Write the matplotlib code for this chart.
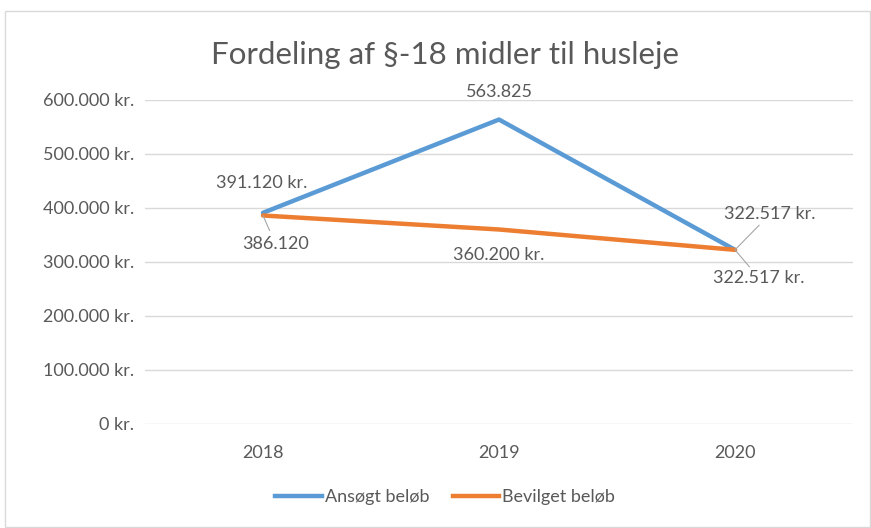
import matplotlib
matplotlib.use("Agg")
import matplotlib.pyplot as plt
from matplotlib.patches import Rectangle
from matplotlib.lines import Line2D

title = "Fordeling af §-18 midler til husleje"
years = ["2018", "2019", "2020"]
ansoegt = [391120, 563825, 322517]
bevilget = [386120, 360200, 322517]
ansoegt_labels = ["391.120 kr.", "563.825", "322.517 kr."]
bevilget_labels = ["386.120", "360.200 kr.", "322.517 kr."]
yticks = [0, 100000, 200000, 300000, 400000, 500000, 600000]
ytick_labels = ["0 kr.", "100.000 kr.", "200.000 kr.", "300.000 kr.",
                "400.000 kr.", "500.000 kr.", "600.000 kr."]
series_names = ["Ansøgt beløb", "Bevilget beløb"]

BLUE = "#5B9BD5"
ORANGE = "#ED7D31"
TXT = "#595959"
GRID = "#D9D9D9"
plt.rcParams['font.family'] = ['Lato', 'DejaVu Sans']
FS = 13

W, H = 871, 528
fig = plt.figure(figsize=(W/100, H/100), dpi=100)
fig.patch.set_facecolor("white")
fig.add_artist(Rectangle((5/W, 1/H), (W-6)/W, (H-12)/H, transform=fig.transFigure,
                         fill=False, edgecolor="#D9D9D9", lw=1))

ax = fig.add_axes([145/W, (H-424)/H, (853-145)/W, (424-100)/H])
x = list(range(len(years)))
ax.plot(x, ansoegt, color=BLUE, lw=3.2, solid_capstyle="round", zorder=3)
ax.plot(x, bevilget, color=ORANGE, lw=3.2, solid_capstyle="round", zorder=3)
ax.set_xlim(-0.5, 2.5)
ax.set_ylim(0, 600000)
ax.set_yticks(yticks)
ax.set_yticklabels(ytick_labels)
ax.set_xticks(x)
ax.set_xticklabels(years)
ax.tick_params(length=0, colors=TXT, labelsize=FS)
ax.tick_params(axis="y", pad=8)
ax.tick_params(axis="x", pad=15)
ax.grid(axis="y", color=GRID, lw=1)
ax.set_axisbelow(True)
for s in ax.spines.values():
    s.set_visible(False)

lab_kw = dict(color=TXT, fontsize=FS, ha="center", va="center")
lead = dict(arrowstyle="-", color="#A6A6A6", lw=0.8, shrinkB=0)
# blue labels (offsets in points)
ax.annotate(ansoegt_labels[0], (0, ansoegt[0]), xytext=(-1, 21.5), textcoords="offset points", **lab_kw)
ax.annotate(ansoegt_labels[1], (1, ansoegt[1]), xytext=(0, 20), textcoords="offset points", **lab_kw)
ax.annotate(ansoegt_labels[2], (2, ansoegt[2]), xytext=(25, 25.5), textcoords="offset points",
            arrowprops=dict(shrinkA=0, **lead), **lab_kw)
# orange labels
ax.annotate(bevilget_labels[0], (0, bevilget[0]), xytext=(9, -20.5), textcoords="offset points",
            arrowprops=dict(shrinkA=2, **lead), **lab_kw)
ax.annotate(bevilget_labels[1], (1, bevilget[1]), xytext=(0, -18.4), textcoords="offset points", **lab_kw)
ax.annotate(bevilget_labels[2], (2, bevilget[2]), xytext=(17, -20), textcoords="offset points",
            arrowprops=dict(shrinkA=0, **lead), **lab_kw)

fig.text(445/W, 1-55/H, title, ha="center", va="center", fontsize=22.5, color=TXT)

handles = [Line2D([], [], color=BLUE, lw=3.2), Line2D([], [], color=ORANGE, lw=3.2)]
fig.legend(handles, series_names, loc="center", bbox_to_anchor=(445/W, 1-497/H),
           ncol=2, frameon=False, fontsize=FS, labelcolor=TXT, handlelength=2.6,
           handletextpad=0.15, columnspacing=1.3)

fig.savefig("out.png", dpi=100, facecolor="white")
